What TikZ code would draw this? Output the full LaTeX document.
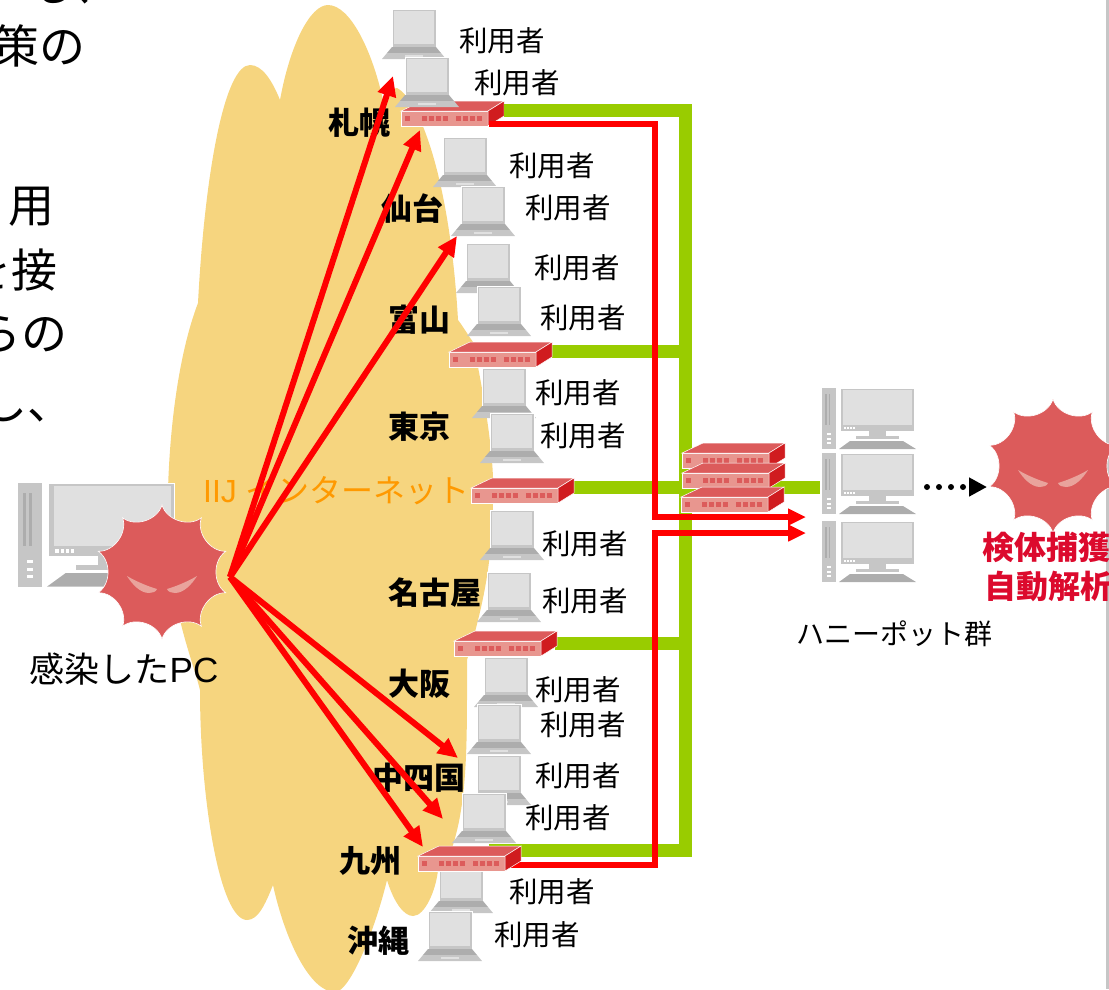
\documentclass[tikz,border=0pt]{standalone}
\usepackage{fontspec}
\setmainfont{Noto Sans CJK JP}
\newfontfamily\latinfont{Liberation Sans}
\usepackage{xcolor}
\usetikzlibrary{arrows.meta}

\definecolor{cloudcol}{HTML}{F6D57F}
\definecolor{virusred}{HTML}{DC5B5B}
\definecolor{viruseye}{HTML}{E9A39C}
\definecolor{frontcol}{HTML}{E8968F}
\definecolor{sidecol}{HTML}{D01C1F}
\definecolor{linkgreen}{HTML}{99CC00}
\definecolor{netorange}{HTML}{FF9900}
\definecolor{catchred}{HTML}{DC0A2D}
\definecolor{framecol}{HTML}{C6C6C6}
\definecolor{screencol}{HTML}{E0E0E0}
\definecolor{keycol}{HTML}{ADADAD}

\tikzset{
    userlabel/.style={anchor=west, inner sep=0pt, font=\fontsize{28.5pt}{28.5pt}\selectfont},
    citylabel/.style={anchor=west, inner sep=0pt, font=\fontsize{31pt}{31pt}\selectfont\bfseries},
    bodytext/.style={anchor=east, inner sep=0pt, font=\fontsize{46pt}{46pt}\selectfont},
    catchlabel/.style={inner sep=0pt, text=catchred, font=\fontsize{32pt}{32pt}\selectfont\bfseries},
    greenlink/.style={draw=linkgreen, line width=13pt},
    redlink/.style={draw=red, line width=5.5pt},
    attack/.style={draw=red, line width=6pt, -{Triangle[length=20pt,width=18pt]}},
    pics/laptop/.style={code={
        \fill[framecol, draw=white, line width=0.5pt] (-22,0) rectangle (22,38);
        \fill[screencol] (-20,2) rectangle (20,35);
        \fill[keycol] (-22,38) -- (22,38) -- (27,44) -- (-27,44) -- cycle;
        \fill[framecol] (-27,44) -- (27,44) -- (32,50) -- (-32,50) -- cycle;
        \fill[screencol] (-9,46) rectangle (9,48);
    }},
    pics/router/.style={code={
        \fill[frontcol, draw=white, line width=0.7pt] (0,0) rectangle (87,15);
        \fill[virusred, draw=white, line width=0.5pt] (0,0) -- (21,-10) -- (103,-10) -- (87,0) -- cycle;
        \fill[sidecol, draw=white, line width=0.5pt] (87,0) -- (103,-10) -- (103,5) -- (87,15) -- cycle;
        \foreach \dx in {4,21,28,35,42,55,62,69,76}
            \fill[virusred] (\dx,5) rectangle (\dx+5,10);
    }},
    pics/desktop/.style={code={
        \fill[framecol] (0,0) rectangle (14,61);
        \fill[keycol] (3,6) rectangle (4.5,37);
        \fill[keycol] (6.5,6) rectangle (8,37);
        \foreach \dy in {45,50,54}
            \fill[white] (5,\dy) rectangle (9,\dy+2);
        \fill[framecol, draw=white, line width=0.4pt] (18,0) rectangle (92,43);
        \fill[screencol] (21,2) rectangle (90,37);
        \foreach \dx in {22,25,28,31}
            \fill[white] (\dx,39) rectangle (\dx+2,41);
        \fill[framecol] (47,43) rectangle (64,48);
        \fill[framecol] (34,48) rectangle (77,51);
        \fill[keycol] (28,53) -- (81,53) -- (94,61) -- (17,61) -- cycle;
    }},
    pics/virus/.style={code={
        \fill[virusred, draw=white, line width=0.6pt] (90:67)
            \foreach \a in {90,126,...,414} { .. controls (\a+5:52) and (\a+31:52) .. (\a+36:67) } -- cycle;
        \fill[viruseye] (-35,4) .. controls (-25,10) and (-12,15) .. (-5,17) .. controls (-6,20) and (-10,21) .. (-13,21) .. controls (-22,21) and (-30,12) .. (-35,4) -- cycle;
        \fill[viruseye] (35,4) .. controls (25,10) and (12,15) .. (5,17) .. controls (6,20) and (10,21) .. (13,21) .. controls (22,21) and (30,12) .. (35,4) -- cycle;
    }}
}

\begin{document}
\begin{tikzpicture}[x=1pt, y=-1pt]
        \useasboundingbox (0,0) rectangle (1109,989);
        \clip (0,0) rectangle (1109,989);

        \fill[cloudcol] (198,303) .. controls (205,170) and (225,65) .. (250,65)
            .. controls (262,65) and (272,80) .. (280,100)
            .. controls (290,45) and (310,5) .. (328,5)
            .. controls (350,5) and (372,50) .. (383,100)
            .. controls (388,92) and (392,88) .. (397,88)
            .. controls (420,100) and (450,180) .. (458,320)
            .. controls (462,325) and (468,335) .. (473,342)
            .. controls (485,400) and (495,460) .. (493,500)
            .. controls (492,560) and (485,600) .. (467,660)
            .. controls (467,740) and (468,800) .. (452,848)
            .. controls (446,860) and (440,865) .. (438,870)
            .. controls (436,890) and (425,916) .. (413,916)
            .. controls (403,916) and (393,900) .. (387,880)
            .. controls (375,930) and (350,992) .. (335,992)
            .. controls (310,992) and (285,940) .. (273,885)
            .. controls (265,905) and (258,920) .. (247,920)
            .. controls (220,920) and (200,800) .. (200,690)
            .. controls (190,650) and (165,600) .. (168,490)
            .. controls (170,420) and (180,350) .. (198,303) -- cycle;

        \fill[framecol] (1106,0) rectangle (1109,989);

        \node[bodytext] (txta) at (119,-15) {も、};
        \node[bodytext] (txtb) at (86,46) {策の};
        \node[bodytext] (txtc) at (55,207) {用};
        \node[bodytext] (txtd) at (58,270) {を接};
        \node[bodytext] (txte) at (68,334) {らの};
        \node[bodytext] (txtf) at (74,403) {し、};

        \pic at (414,9) {laptop};
        \pic at (401,111) {router};
        \pic at (427,57) {laptop};
        \pic at (465,137) {laptop};
        \pic at (483,186) {laptop};
        \pic at (488,243) {laptop};
        \pic at (499,286) {laptop};
        \pic at (504,368) {laptop};
        \pic at (512,413) {laptop};
        \pic at (512,510) {laptop};
        \pic at (509,572) {laptop};
        \pic at (506,657) {laptop};
        \pic at (499,704) {laptop};
        \pic at (499,755) {laptop};
        \pic at (484,793) {laptop};
        \pic at (461,863) {laptop};
        \pic at (450,911) {laptop};

        \node[userlabel] (usra) at (459,41) {利用者};
        \node[userlabel] (usrb) at (474,83) {利用者};
        \node[userlabel] (usrc) at (509,166) {利用者};
        \node[userlabel] (usrd) at (525,208) {利用者};
        \node[userlabel] (usre) at (534,268) {利用者};
        \node[userlabel] (usrf) at (540,318) {利用者};
        \node[userlabel] (usrg) at (535,393) {利用者};
        \node[userlabel] (usrh) at (540,436) {利用者};
        \node[userlabel] (usri) at (542,544) {利用者};
        \node[userlabel] (usrj) at (542,601) {利用者};
        \node[userlabel] (usrk) at (535,690) {利用者};
        \node[userlabel] (usrl) at (540,725) {利用者};
        \node[userlabel] (usrm) at (535,776) {利用者};
        \node[userlabel] (usrn) at (525,818) {利用者};
        \node[userlabel] (usro) at (509,892) {利用者};
        \node[userlabel] (usrp) at (494,935) {利用者};

        \node[citylabel] (sapporo) at (328,123) {札幌};
        \node[citylabel] (sendai) at (381,209) {仙台};
        \node[citylabel] (toyama) at (388,320) {富山};
        \node[citylabel] (tokyo) at (388,427) {東京};
        \node[citylabel] (nagoya) at (388,593) {名古屋};
        \node[citylabel] (osaka) at (388,684) {大阪};
        \node[citylabel] (chushi) at (372,778) {中四国};
        \node[citylabel] (kyushu) at (339,861) {九州};
        \node[citylabel] (okinawa) at (347,941) {沖縄};

        \node[anchor=west, inner sep=0pt, text=netorange, font=\fontsize{32pt}{32pt}\selectfont] (iij) at (203,491) {{\latinfont IIJ }インターネット};

        \coordinate (rsap) at (504,110);
        \coordinate (rtoy) at (552,351);
        \coordinate (rtok) at (573,487);
        \coordinate (rosa) at (555,643);
        \coordinate (rkyu) at (489,850);
        \coordinate (trunktop) at (685,110);
        \coordinate (trunkbot) at (685,850);
        \coordinate (jtoy) at (685,351);
        \coordinate (jtok) at (820,487);
        \coordinate (josa) at (685,643);

        \draw[greenlink] (rsap) -- (trunktop) -- (trunkbot) -- (rkyu);
        \draw[greenlink] (rtoy) -- (jtoy);
        \draw[greenlink] (rtok) -- (jtok);
        \draw[greenlink] (rosa) -- (josa);

        \coordinate (rsapout) at (489,124);
        \coordinate (rkyuout) at (505,865);
        \coordinate (redtop) at (655,124);
        \coordinate (redmida) at (655,517);
        \coordinate (redmidb) at (655,533);
        \coordinate (redbot) at (655,865);
        \coordinate (hptipa) at (806,517);
        \coordinate (hptipb) at (806,533);

        \draw[redlink, -{Triangle[length=18pt,width=16pt]}] (rsapout) -- (redtop) -- (redmida) -- (hptipa);
        \draw[redlink, -{Triangle[length=18pt,width=16pt]}] (rkyuout) -- (redbot) -- (redmidb) -- (hptipb);

        \pic at (449,352) {router};
        \pic at (471,488) {router};
        \pic at (454,641) {router};
        \pic at (418,856) {router};
        \pic at (682,453) {router};
        \pic at (682,473) {router};
        \pic at (681,497) {router};

        \pic at (822,388) {desktop};
        \pic at (822,453) {desktop};
        \pic at (822,521) {desktop};
        \pic[scale=1.7] at (18,483) {desktop};

        \pic at (162,572) {virus};
        \pic at (1053,466) {virus};

        \coordinate (dotstart) at (927,487);
        \coordinate (dotend) at (987,487);
        \draw[line width=6pt, line cap=round, dash pattern=on 0pt off 12pt, -{Triangle[length=18pt,width=18pt]}] (dotstart) -- (dotend);

        \node[catchlabel] (catcha) at (1046,547) {検体捕獲};
        \node[catchlabel] (catchb) at (1048,586) {自動解析};
        \node[inner sep=0pt, font=\fontsize{28pt}{28pt}\selectfont] (honeylabel) at (894,634) {ハニーポット群};
        \node[inner sep=0pt, font=\fontsize{35pt}{35pt}\selectfont] (pclabel) at (124,669) {感染した{\latinfont PC}};

        \coordinate (pcout) at (230,577);
        \coordinate (tipsap) at (393,76);
        \coordinate (tipsen) at (420,130);
        \coordinate (tiptoy) at (457,236);
        \coordinate (tipchu) at (458,758);
        \coordinate (tipshi) at (443,819);
        \coordinate (tipkyu) at (423,847);

        \draw[attack] (pcout) -- (tipsap);
        \draw[attack] (pcout) -- (tipsen);
        \draw[attack] (pcout) -- (tiptoy);
        \draw[attack] (pcout) -- (tipchu);
        \draw[attack] (pcout) -- (tipshi);
        \draw[attack] (pcout) -- (tipkyu);
    \end{tikzpicture}
\end{document}
